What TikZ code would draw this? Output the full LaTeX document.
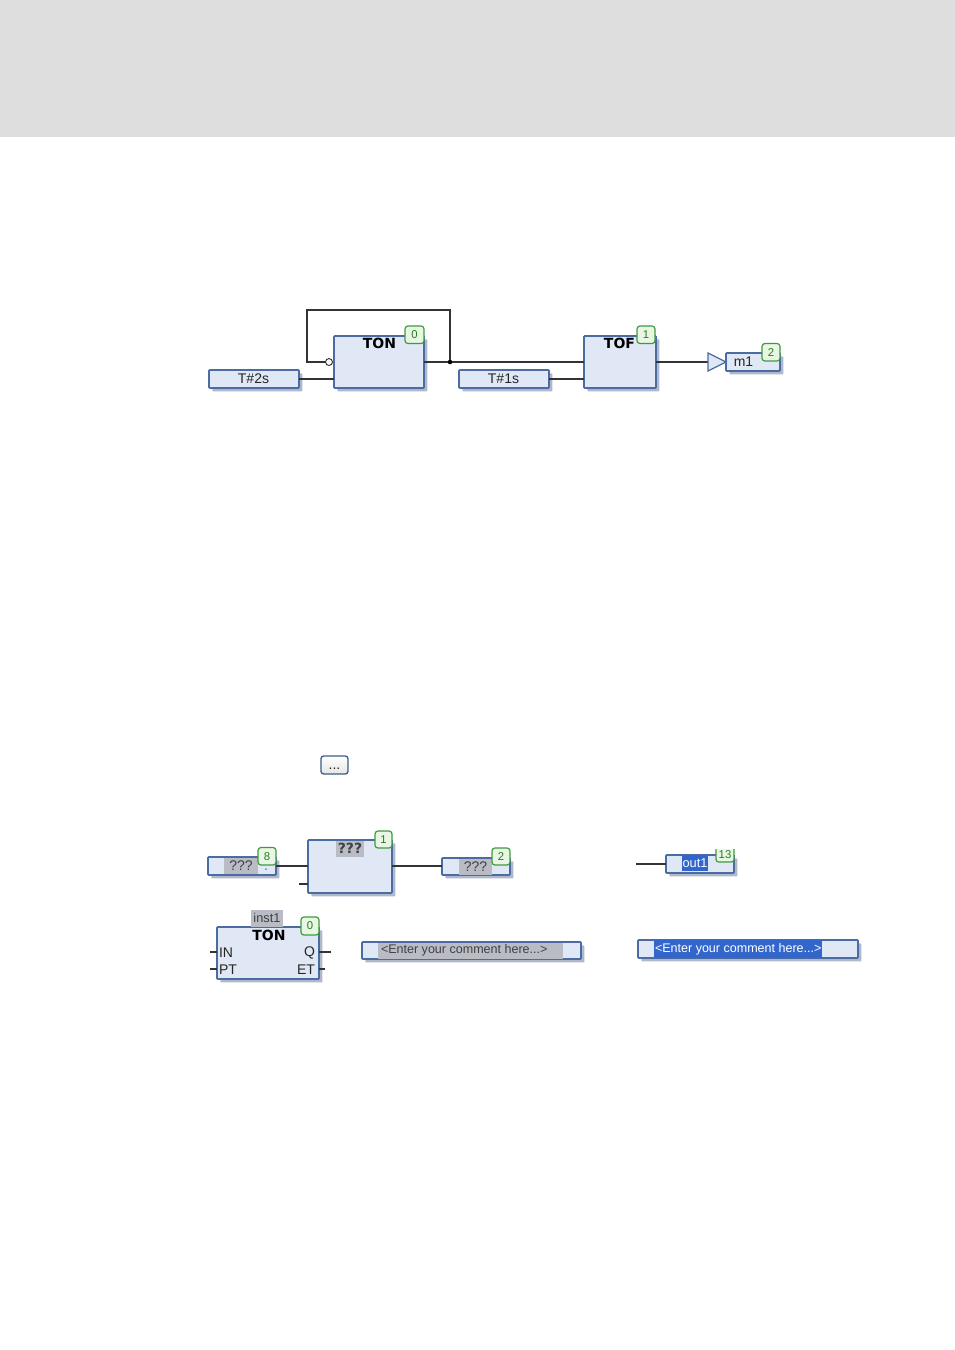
\documentclass[tikz,border=0pt]{standalone}
\usepackage{fontspec}
\setmainfont{Liberation Sans}
\newfontfamily\blockfont{DejaVu Sans}
\usetikzlibrary{shadows}
\definecolor{band}{HTML}{DEDEDE}
\definecolor{blockfill}{HTML}{E0E7F5}
\definecolor{blockline}{HTML}{4A6CA3}
\definecolor{blockshade}{HTML}{B0B8CC}
\definecolor{badgefill}{HTML}{EAF6E4}
\definecolor{badgeline}{HTML}{3F9A3F}
\definecolor{badgetext}{HTML}{1F7F1F}
\definecolor{wirecol}{HTML}{333333}
\definecolor{greysel}{HTML}{B9BCC4}
\definecolor{bluesel}{HTML}{3366CC}
\tikzset{
  geo/.style args={#1/#2/#3/#4}{minimum width={(#3-#1)*0.75pt},minimum height={(#4-#2)*0.75pt},inner sep=0pt,outer sep=0pt},
  fb/.style={rectangle,draw=blockline,line width=1.2pt,fill=blockfill,rounded corners=0.6pt,
    drop shadow={shadow xshift=2.6pt,shadow yshift=-2.6pt,opacity=1,fill=blockshade,rounded corners=0.6pt}},
  badge/.style={rectangle,draw=badgeline,line width=0.9pt,fill=badgefill,rounded corners=2.2pt,text=badgetext,font=\fontsize{8.5}{10}\selectfont},
  sel/.style={rectangle,fill=greysel,text=black!75},
  hil/.style={rectangle,fill=bluesel,text=white},
  wire/.style={draw=wirecol,line width=0.95pt},
  lbl/.style={inner sep=0pt,outer sep=0pt,font=\fontsize{10.5}{12}\selectfont,text=black!85},
  small/.style={inner sep=0pt,outer sep=0pt,font=\fontsize{9.4}{12}\selectfont,text=black!75},
  title/.style={inner sep=0pt,outer sep=0pt,font=\blockfont\bfseries\fontsize{10.5}{12}\selectfont},
}
\newcommand{\place}[7]{\node[#1,geo=#3/#4/#5/#6] (#2) at ({(#3+#5)/2},{(#4+#6)/2}) {#7};}
\begin{document}
\begin{tikzpicture}[x=0.75pt,y=-0.75pt]
\useasboundingbox (0,0) rectangle (955,1350);
\fill[white] (0,0) rectangle (955,1350);
\fill[band] (0,0) rectangle (955,137);

% --- upper network
\place{fb}{tsa}{209}{370}{299}{388}{}
\place{fb}{ton}{334}{336}{424}{388}{}
\place{fb}{tsb}{459}{370}{549}{388}{}
\place{fb}{tof}{584}{336}{656}{388}{}
\place{fb}{mone}{726}{353}{780}{371}{}
\node[lbl] (tsat) at (253.5,378.5) {T\#2s};
\node[lbl] (tsbt) at (503.5,378.5) {T\#1s};
\node[lbl] (monet) at (743.5,361.5) {m1};
\node[title] (tont) at (379.5,343.5) {TON};
\node[title] (toft) at (619.5,343.5) {TOF};
\place{badge}{bza}{405}{326}{424}{343.5}{0}
\place{badge}{bzb}{637}{326}{655}{343.5}{1}
\place{badge}{bzc}{762}{343.5}{780}{361}{2}
\coordinate (tonout) at (424,362);
\coordinate (tofin) at (584,362);
\coordinate (tofout) at (656,362);
\node[circle,draw=wirecol,fill=white,line width=0.7pt,minimum size=5.2pt,inner sep=0pt,outer sep=0pt] (neg) at (329,362) {};
\node[circle,fill=black,minimum size=3.4pt,inner sep=0pt,outer sep=0pt] (jn) at (450,362) {};
\draw[wire] (tonout) -- (jn) -- (tofin);
\draw[wire] (neg.west) -- (307,362) -- (307,310) -- (450,310) -- (jn);
\draw[wire] (tsa.east) -- (tsa.east -| ton.west);
\draw[wire] (tsb.east) -- (tsb.east -| tof.west);
\coordinate (tria) at (708,353);
\coordinate (trib) at (708,371);
\coordinate (tric) at (726,362);
\draw[wire] (tofout) -- (708,362);
\draw[draw=blockline,line width=0.9pt,fill=blockfill,line join=miter] (tria) -- (tric) -- (trib) -- cycle;

% --- button
\node[rectangle,rounded corners=2pt,draw=blockline!85!black,line width=1pt,top color=white,bottom color=black!10,geo=321/756/348/774] (btn) at (334.5,765) {};
\node[lbl] (btnt) at (334.5,769) {...};

% --- lower-left network
\place{fb}{inq}{208}{857}{276}{875}{}
\place{sel}{inqs}{224}{857.5}{258}{874}{\fontsize{10.5}{12}\selectfont ???}
\place{badge}{beight}{258}{847.5}{276}{865}{8}
\node[lbl,text=blockline] (inqd) at (266,870) {.};
\place{fb}{mid}{308}{840}{392}{893}{}
\place{sel}{mids}{336}{840.5}{364}{857}{\blockfont\bfseries\fontsize{10.5}{12}\selectfont ???}
\place{badge}{bmid}{375}{831}{392}{848}{1}
\place{fb}{outq}{442}{858}{510}{875}{}
\place{sel}{outqs}{459}{858.5}{492}{874.5}{\fontsize{10.5}{12}\selectfont ???}
\place{badge}{boutq}{492}{848}{510}{865}{2}
\coordinate (midb) at (299,884);
\draw[wire] (inq.east) -- (inq.east -| mid.west);
\draw[wire] (mid.east |- inq.east) -- (inq.east -| outq.west);
\draw[wire] (midb) -- (midb -| mid.west);

% --- instance block
\place{fb}{inst}{217}{927}{319}{979}{}
\place{sel}{instn}{251}{910}{283}{926.5}{\fontsize{9.6}{12}\selectfont inst1}
\node[title] (instt) at (269,935) {TON};
\place{badge}{binst}{301}{917}{319}{935}{0}
\node[lbl,anchor=west] (pina) at (219,952.5) {IN};
\node[lbl,anchor=west] (pinb) at (219,969.5) {PT};
\node[lbl,anchor=east] (pinc) at (315,952.5) {Q};
\node[lbl,anchor=east] (pind) at (315,969.5) {ET};
\coordinate (sa) at (210,952);
\coordinate (sb) at (210,969);
\coordinate (sc) at (331,952);
\coordinate (sd) at (325,969);
\draw[wire] (sa) -- (sa -| inst.west);
\draw[wire] (sb) -- (sb -| inst.west);
\draw[wire] (sc) -- (sc -| inst.east);
\draw[wire] (sd) -- (sd -| inst.east);

% --- comment
\place{fb}{com}{362}{942}{581}{959}{}
\place{sel}{comh}{378}{942.5}{563}{958.5}{}
\node[small,anchor=west] (comt) at (381,950.5) {<Enter your comment here...>};

% --- out1
\place{fb}{outa}{666}{855}{734}{873}{}
\place{hil}{outh}{682}{855}{708}{871}{\fontsize{9.6}{12}\selectfont out1}
\coordinate (outw) at (636,864);
\draw[wire] (outw) -- (outw -| outa.west);
\fill[badgefill,rounded corners=2pt] (716,846) rectangle (734,862);
\draw[badgeline,line width=0.9pt,rounded corners=2pt] (716,849) -- (716,862) -- (734,862) -- (734,849);
\fill[white] (714,840) rectangle (737,848.5);
\node[inner sep=0pt,outer sep=0pt,text=badgetext,font=\fontsize{8.5}{10}\selectfont] (bout) at (725,855) {13};

% --- selected comment
\place{fb}{comb}{638}{940}{858}{958}{}
\place{hil}{combh}{654}{939.5}{822}{957.5}{}
\node[small,anchor=west,text=white] (combt) at (655,949) {<Enter your comment here...>};
\end{tikzpicture}
\end{document}
